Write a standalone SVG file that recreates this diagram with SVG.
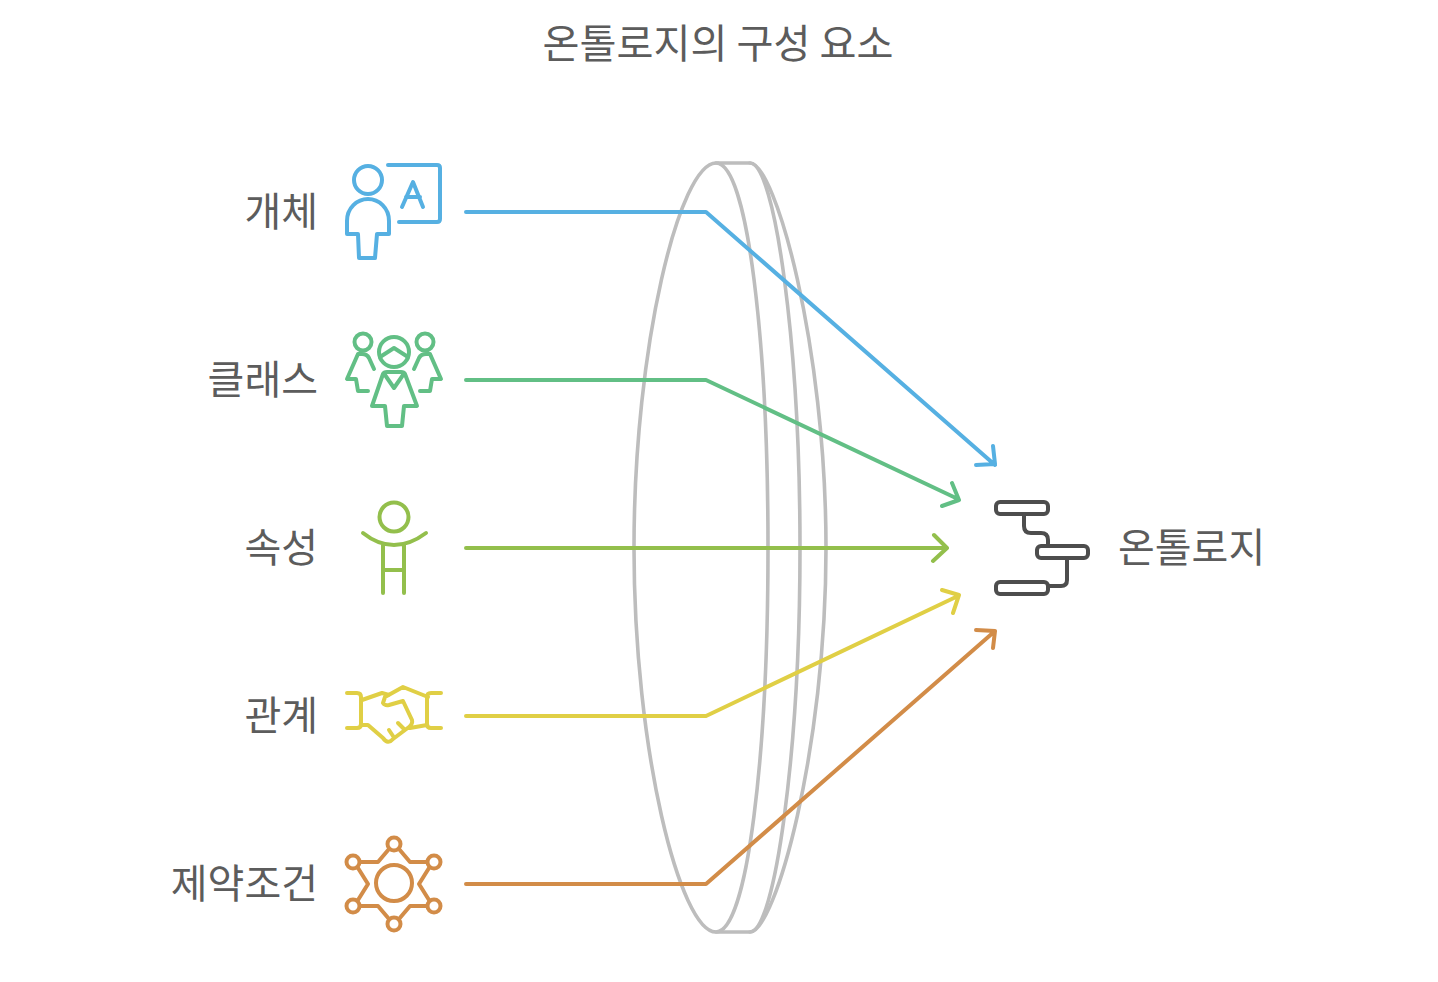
<svg xmlns="http://www.w3.org/2000/svg" width="1438" height="982" viewBox="0 0 1438 982">
<style>
text{font-family:"Noto Sans CJK KR","Noto Sans",sans-serif;font-size:40px;fill:#5c5c5c;font-weight:400}
.e{text-anchor:end}
path,circle,rect{fill:none;stroke-linecap:round;stroke-linejoin:round;stroke-width:4}
.lens path{stroke:#bdbdbd;stroke-width:3.6}
.b{stroke:#56b0e2}.g{stroke:#62bf85}.l{stroke:#93bf4c}.y{stroke:#e0cf45}.o{stroke:#d28c48}.k{stroke:#4d4d4d}
</style>
<rect width="1438" height="982" style="fill:#fff;stroke:none"/>
<text x="718" y="57.500" text-anchor="middle" style="font-size:40.200px">온톨로지의 구성 요소</text>
<g id="lens" class="lens">
<path d="M716 163C680 163 634 345 634 548C634 750 680 932 716 932H750C775 932 826 750 826 548C826 345 775 163 750 163Z"/>
<path d="M716 163C748 163 768 345 768 548C768 750 748 932 716 932"/>
<path d="M750 163C775 163 800 345 800 548C800 750 775 932 750 932"/>
</g>
<g id="connectors">
<path class="b" d="M466 212H706L995 465M976 465L995 464L993 446"/>
<path class="g" d="M466 380H706L958 499M952 483L959 500L942 506"/>
<path class="l" d="M466 548H946M934 535L947 548L933 561"/>
<path class="y" d="M466 716H706L958 596M942 590L959 595L953 613"/>
<path class="o" d="M466 884H706L995 631M976 630L995 631L993 648"/>
</g>
<g id="node-entity">
<text class="e" x="318" y="225.500">개체</text>
<circle class="b" cx="368" cy="180" r="14"/>
<path class="b" d="M347 234V221C347 208 357 199 368 199C379 199 389 208 389 221V234H377L375 258H359L358 234Z"/>
<path class="b" d="M388 165H437Q440 165 440 168V219Q440 222 437 222H399M402 207L413 182L423 207M406 197H420"/>
</g>
<g id="node-class">
<text class="e" x="318" y="393.500">클래스</text>
<circle class="g" cx="363" cy="342" r="8.500"/>
<circle class="g" cx="425" cy="342" r="8.500"/>
<circle class="g" cx="394" cy="352" r="15"/>
<path class="g" d="M380 357L394 348L408 357"/>
<path class="g" d="M374 369L369 358Q367 354 362 354H358L347 379H356L358 391H368"/>
<path class="g" d="M414 369L419 358Q421 354 426 354H430L441 379H432L430 391H420"/>
<path class="g" d="M372 406L383 374Q384 372 387 372H401Q404 372 405 374L417 406H404L402 426H387L385 406Z"/>
<path class="g" d="M385 375L394 388L403 375"/>
</g>
<g id="node-attribute">
<text class="e" x="318" y="561.500">속성</text>
<circle class="l" cx="394" cy="517" r="14.500"/>
<path class="l" d="M363 533Q378 545 394 545Q410 545 426 533M383 544V593M404 544V593M383 570H404"/>
</g>
<g id="node-relation">
<text class="e" x="318" y="729.500">관계</text>
<path class="y" d="M347 693H357Q361 693 361 697V724Q361 728 357 728H347M441 693H431Q427 693 427 697V724Q427 728 431 728H441"/>
<path class="y" d="M362 700L382 693L389 695M428 697L403 687L385 697L383 703Q385 706 389 705L403 701L412 720Q413 724 409 727L393 739Q388 745 383 738L368 725H361M389 730L393 736M398 723L404 729M410 728L427 725"/>
</g>
<g id="node-constraint">
<text class="e" x="318" y="897.500">제약조건</text>
<circle class="o" cx="394" cy="883" r="18"/>
<circle class="o" cx="394" cy="844" r="6.500"/>
<circle class="o" cx="353" cy="862" r="6.500"/>
<circle class="o" cx="434" cy="862" r="6.500"/>
<circle class="o" cx="353" cy="906" r="6.500"/>
<circle class="o" cx="434" cy="906" r="6.500"/>
<circle class="o" cx="394" cy="924" r="6.500"/>
<path class="o" d="M389 849L378 862H360M358 868L368 884L358 900M360 906H378L389 919M399 849L410 862H427M429 868L419 884L429 900M427 906H410L399 919"/>
</g>
<g id="node-ontology">
<text x="1118" y="561.500">온톨로지</text>
<rect class="k" x="996" y="502" width="52" height="12" rx="4"/>
<rect class="k" x="1037" y="546" width="51" height="12" rx="4"/>
<rect class="k" x="996" y="582" width="52" height="12" rx="4"/>
<path class="k" d="M1024 515V526Q1024 533 1031 533H1041Q1048 533 1048 540V545M1067 559V580Q1067 586 1061 586H1049"/>
</g>
</svg>
